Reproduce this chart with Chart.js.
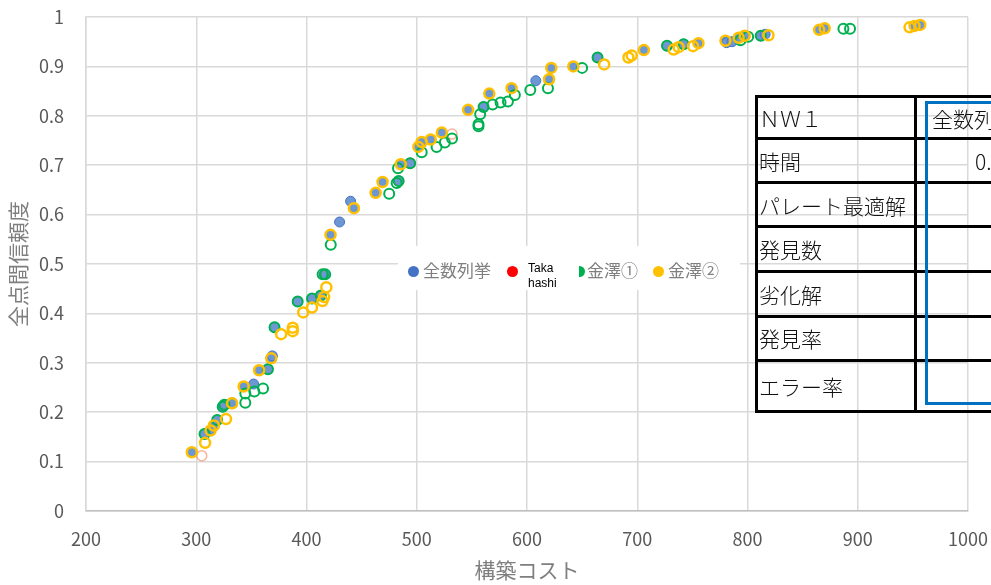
<!DOCTYPE html>
<html lang="ja">
<head>
<meta charset="utf-8">
<script src="https://cdn.jsdelivr.net/npm/chart.js@4.4.0/dist/chart.umd.min.js"></script>
<style>
  body { margin: 0; width: 991px; height: 585px; overflow: hidden; position: relative; background: #fff;
         font-family: "Noto Sans CJK JP", "Noto Sans", sans-serif; }
  #chart { position: absolute; left: 0; top: 0; }
  /* 凡例（グラフ中央に重ねる） */
  #legend { position: absolute; left: 398px; top: 246px; width: 342px; height: 44px; background: #fff; }
  #legend .dot { position: absolute; top: 19.5px; width: 11px; height: 11px; border-radius: 50%; }
  #legend .half { position: absolute; top: 19.5px; width: 5.5px; height: 11px; border-radius: 0 6px 6px 0; }
  #legend .lbl { position: absolute; top: 13px; font-size: 17px; line-height: 22px; color: #7f7f7f; white-space: nowrap; }
  #legend .small { position: absolute; top: 15px; font-size: 12px; line-height: 15px; color: #000; font-family: "Liberation Sans", Arial, sans-serif; }
  /* 右側の結果表 */
  #result { position: absolute; left: 0; top: 0; width: 991px; height: 585px; pointer-events: none; }
  #result .hl { position: absolute; left: 755px; width: 300px; height: 3px; background: #000; }
  #result .vl { position: absolute; top: 95px; width: 3px; height: 318px; background: #000; }
  #result .cell { position: absolute; font-size: 21px; line-height: 28px; color: #111; font-weight: 300; white-space: nowrap; }
  #frame { position: absolute; left: 925px; top: 101px; width: 200px; height: 298px; border: 3px solid #0070c0; }
</style>
</head>
<body>
<canvas id="chart" width="991" height="585"></canvas>
<div id="legend"></div>
<div id="result"></div>
<div id="frame"></div>
<script>
// 全数列挙
const zenCost = [296, 307.5, 313, 316, 319, 324, 325.5, 332.5, 343, 352, 357, 365, 368, 369, 371,
  392, 405, 413, 416, 421.8, 430, 440, 443, 462.7, 469, 483.6, 485.5, 494, 501.5, 504.5, 512.7, 522.7,
  546.6, 560.6, 565.8, 586, 608, 620, 622, 642, 664, 706, 727, 742, 755.5, 780, 781, 786, 792, 797.5,
  812, 816, 865, 870, 951.5, 956.6];
const zenRel = [0.119, 0.156, 0.163, 0.173, 0.184, 0.211, 0.215, 0.218, 0.252, 0.257, 0.285, 0.287, 0.309, 0.314, 0.372,
  0.424, 0.430, 0.436, 0.479, 0.559, 0.585, 0.627, 0.613, 0.644, 0.666, 0.668, 0.702, 0.704, 0.737, 0.747, 0.752, 0.766,
  0.812, 0.818, 0.845, 0.856, 0.871, 0.874, 0.897, 0.900, 0.918, 0.933, 0.942, 0.945, 0.947, 0.952, 0.948, 0.950, 0.958, 0.962,
  0.962, 0.965, 0.974, 0.977, 0.982, 0.984];

// Takahashi
const takaCost = [305, 343, 494, 532];
const takaRel = [0.112, 0.252, 0.704, 0.763];

// 金澤①
const kan1Cost = [307.5, 319, 324, 325.5, 332.5, 344.5, 344.5, 352.7, 360.6, 365, 371, 392, 405, 413, 414.6, 417,
  422, 475, 481.8, 483.6, 483, 494, 504.5, 518, 525.5, 532, 556, 556, 557.5, 560.6, 568.8, 576, 582.7, 589,
  603, 619, 650, 664, 727, 742, 793.6, 800.6, 812, 887, 893];
const kan1Rel = [0.156, 0.184, 0.211, 0.215, 0.218, 0.219, 0.238, 0.242, 0.248, 0.287, 0.372, 0.424, 0.430, 0.436, 0.479, 0.479,
  0.539, 0.642, 0.664, 0.668, 0.694, 0.704, 0.726, 0.737, 0.746, 0.754, 0.783, 0.779, 0.803, 0.818, 0.823, 0.827, 0.829, 0.842,
  0.852, 0.856, 0.897, 0.918, 0.942, 0.945, 0.953, 0.960, 0.962, 0.976, 0.976];

// 金澤②
const kan2Cost = [296, 308, 313, 316, 327, 332.5, 343, 357, 368, 377, 387.5, 387.5, 397, 405, 414.5, 416, 418,
  421.8, 443, 462.7, 469, 485.5, 501.5, 504.5, 512.7, 522.7, 546.6, 565.8, 586, 620, 622, 642, 670, 692, 695,
  706, 733, 737.5, 750.6, 755.5, 780, 792, 797.5, 819, 865, 870, 947, 951.5, 956.6];
const kan2Rel = [0.119, 0.138, 0.163, 0.173, 0.186, 0.218, 0.252, 0.285, 0.309, 0.358, 0.364, 0.371, 0.402, 0.412, 0.425, 0.433, 0.453,
  0.559, 0.613, 0.644, 0.666, 0.702, 0.737, 0.747, 0.752, 0.766, 0.812, 0.845, 0.856, 0.874, 0.897, 0.900, 0.904, 0.918, 0.922,
  0.933, 0.934, 0.939, 0.941, 0.947, 0.952, 0.958, 0.962, 0.963, 0.974, 0.977, 0.979, 0.982, 0.984];

const seriesNames = ['全数列挙', 'Takahashi', '金澤①', '金澤②'];
const tableHeads = ['ＮＷ１', '時間', 'パレート最適解', '発見数', '劣化解', '発見率', 'エラー率'];
const tableValues = ['全数列挙', '0.', '', '', '', '', ''];

const toPoints = (xs, ys) => xs.map((x, i) => ({ x: x, y: ys[i] }));

new Chart(document.getElementById('chart'), {
  type: 'scatter',
  data: {
    datasets: [
      { label: seriesNames[0], data: toPoints(zenCost, zenRel), order: 4,
        pointRadius: 5, pointBackgroundColor: '#6d97d3', pointBorderColor: '#4472c4', pointBorderWidth: 1 },
      { label: seriesNames[1], data: toPoints(takaCost, takaRel), order: 3,
        pointRadius: 5, pointBackgroundColor: 'rgba(0,0,0,0)', pointBorderColor: 'rgba(240,130,90,0.6)', pointBorderWidth: 1.5 },
      { label: seriesNames[2], data: toPoints(kan1Cost, kan1Rel), order: 2,
        pointRadius: 5, pointBackgroundColor: 'rgba(0,0,0,0)', pointBorderColor: '#00b050', pointBorderWidth: 2 },
      { label: seriesNames[3], data: toPoints(kan2Cost, kan2Rel), order: 1,
        pointRadius: 5, pointBackgroundColor: 'rgba(0,0,0,0)', pointBorderColor: '#ffc000', pointBorderWidth: 2.5 }
    ]
  },
  options: {
    responsive: false,
    animation: false,
    devicePixelRatio: 1,
    layout: { padding: { top: 17, right: 23, left: 0, bottom: 0 } },
    plugins: { legend: { display: false }, tooltip: { enabled: false } },
    scales: {
      x: {
        type: 'linear', min: 200, max: 1000,
        ticks: { stepSize: 100, color: '#595959', padding: 17, font: { family: 'Noto Sans CJK JP', size: 18 },
                 callback: v => String(v) },
        grid: { color: '#d9d9d9', lineWidth: 1.5, drawTicks: false },
        border: { color: '#bfbfbf', width: 1.5 },
        title: { display: true, text: '構築コスト', color: '#7f7f7f', padding: { top: 0, bottom: 2 },
                 font: { family: 'Noto Sans CJK JP', size: 21 } },
        afterFit: s => { s.height = 74; s.paddingLeft = 0; s.paddingRight = 0; }
      },
      y: {
        min: 0, max: 1,
        ticks: { stepSize: 0.1, color: '#595959', padding: 22, font: { family: 'Noto Sans CJK JP', size: 18 },
                 callback: v => String(+v.toFixed(1)) },
        grid: { color: '#d9d9d9', lineWidth: 1.5, drawTicks: false },
        border: { color: '#d9d9d9', width: 1.5 },
        title: { display: true, text: '全点間信頼度', color: '#7f7f7f', padding: { top: 5, bottom: 0 },
                 font: { family: 'Noto Sans CJK JP', size: 21 } },
        afterFit: s => { s.width = 86; s.paddingTop = 0; s.paddingBottom = 0; }
      }
    }
  }
});

// 凡例
const legendColors = ['#4472c4', '#ff0000', '#00b050', '#ffc000'];
const legendX = [9.5, 108.5, 181, 254.5];
const legendTextX = [25, 130, 189, 270];
const legend = document.getElementById('legend');
seriesNames.forEach((name, i) => {
  const dot = document.createElement('div');
  dot.className = i === 2 ? 'half' : 'dot';
  dot.style.left = legendX[i] + 'px';
  dot.style.background = legendColors[i];
  legend.appendChild(dot);
  const lbl = document.createElement('div');
  if (i === 1) {
    lbl.className = 'small';
    lbl.innerHTML = 'Taka<br>hashi';
  } else {
    lbl.className = 'lbl';
    lbl.textContent = name;
  }
  lbl.style.left = legendTextX[i] + 'px';
  legend.appendChild(lbl);
});

// 結果表（罫線と文字）
const rowLines = [95, 137, 181, 225, 270, 314.5, 359, 410];
const colLines = [755, 914];
const result = document.getElementById('result');
rowLines.forEach(y => {
  const d = document.createElement('div');
  d.className = 'hl';
  d.style.top = y + 'px';
  result.appendChild(d);
});
colLines.forEach(x => {
  const d = document.createElement('div');
  d.className = 'vl';
  d.style.left = x + 'px';
  result.appendChild(d);
});
tableHeads.forEach((h, i) => {
  const cy = (rowLines[i] + rowLines[i + 1]) / 2 + 1.5;
  const a = document.createElement('div');
  a.className = 'cell';
  a.style.left = '759px';
  a.style.top = (cy - 14) + 'px';
  a.textContent = h;
  result.appendChild(a);
  if (tableValues[i]) {
    const b = document.createElement('div');
    b.className = 'cell';
    b.style.left = (i === 1 ? 975 : 932) + 'px';
    b.style.top = (cy - 14) + 'px';
    b.textContent = tableValues[i];
    result.appendChild(b);
  }
});
</script>
</body>
</html>
